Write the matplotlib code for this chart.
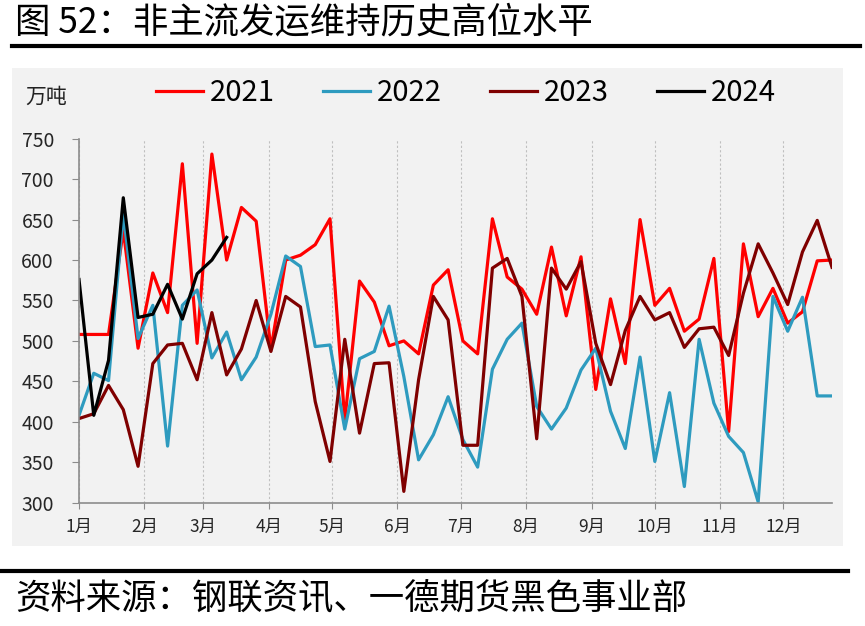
import numpy as np
import matplotlib.pyplot as plt
from matplotlib.lines import Line2D
from matplotlib.patches import Rectangle

plt.rcParams["font.family"] = ["Noto Sans CJK SC", "DejaVu Sans"]

months = ["1月", "2月", "3月", "4月", "5月", "6月", "7月", "8月", "9月", "10月", "11月", "12月"]
month_start = [0, 31, 59, 90, 120, 151, 181, 212, 243, 273, 304, 334]

y2021 = [508, 508, 508, 637, 491, 584, 535, 719, 497, 731, 600, 665, 648, 490,
         600, 606, 619, 651, 402, 574, 548, 494, 500, 484, 569, 588, 500, 484,
         651, 579, 564, 533, 616, 531, 604, 440, 552, 472, 650, 544, 565, 512,
         527, 602, 388, 620, 530, 565, 522, 536, 599, 600]
y2022 = [408, 460, 451, 658, 503, 544, 370, 544, 563, 479, 511, 452, 480, 533,
         605, 592, 493, 495, 391, 478, 487, 543, 456, 353, 384, 431, 378, 344,
         465, 502, 522, 419, 391, 417, 464, 491, 413, 367, 480, 351, 436, 320,
         502, 423, 382, 362, 301, 555, 512, 554, 432, 432]
y2023 = [404, 410, 445, 415, 345, 472, 495, 497, 452, 535, 458, 490, 550, 487,
         555, 542, 425, 351, 502, 386, 472, 473, 314, 452, 555, 526, 371, 371,
         590, 602, 555, 379, 590, 564, 598, 497, 446, 513, 555, 526, 535, 492,
         515, 517, 482, 559, 620, 584, 545, 610, 649, 591]
y2024 = [576, 408, 476, 677, 529, 533, 570, 527, 583, 600, 628]

series = [
    ("2021", y2021, "#FF0000"),
    ("2022", y2022, "#2E9BBF"),
    ("2023", y2023, "#7F0000"),
    ("2024", y2024, "#000000"),
]

W, H = 865, 626
fig = plt.figure(figsize=(W / 100, H / 100), dpi=100)

# grey chart block
fig.add_artist(Rectangle((12 / W, 1 - 546 / H), 831 / W, 478 / H,
                         transform=fig.transFigure, facecolor="#F2F2F2",
                         edgecolor="none", zorder=0))
# rules above and below
fig.add_artist(Line2D([12 / W, 860 / W], [1 - 46 / H] * 2, color="black", lw=3))
fig.add_artist(Line2D([0, 848 / W], [1 - 571 / H] * 2, color="black", lw=3))

fig.text(15 / W, 1 - 22 / H, "图 52：非主流发运维持历史高位水平", fontsize=25.5,
         va="center", ha="left")
fig.text(15 / W, 1 - 598 / H, "资料来源：钢联资讯、一德期货黑色事业部", fontsize=25.5,
         va="center", ha="left")
fig.text(25 / W, 1 - 97 / H, "万吨", fontsize=15, va="center", ha="left",
         color="#222222")

ax = fig.add_axes([79 / W, 1 - 502.7 / H, 753 / W, 364 / H])
ax.set_facecolor("none")

for label, vals, color in series:
    days = np.arange(len(vals)) * 7
    ax.plot(days, vals, color=color, lw=2.3, label=label)

ax.set_xlim(0, 357)
ax.set_ylim(300, 750)
ax.set_yticks(range(300, 751, 50))
ax.set_xticks(month_start)
ax.set_xticklabels(months)
ax.xaxis.grid(True, linestyle=(0, (2, 2)), color="#BFBFBF", lw=0.8)
ax.set_axisbelow(True)

for s in ["top", "right"]:
    ax.spines[s].set_visible(False)
for s in ["left", "bottom"]:
    ax.spines[s].set_color("#8C8C8C")
    ax.spines[s].set_linewidth(1.2)

ax.tick_params(axis="y", labelsize=14, length=5, pad=13, color="#8C8C8C",
               labelcolor="#262626")
ax.tick_params(axis="x", labelsize=12.5, length=4, pad=7, color="#8C8C8C",
               labelcolor="#262626")

fig.legend(loc="center", bbox_to_anchor=(466 / W, 1 - 93 / H), ncol=4,
           frameon=False, fontsize=21, handlelength=1.6, handletextpad=0.25,
           columnspacing=1.65)

fig.savefig("out.png", dpi=100)
